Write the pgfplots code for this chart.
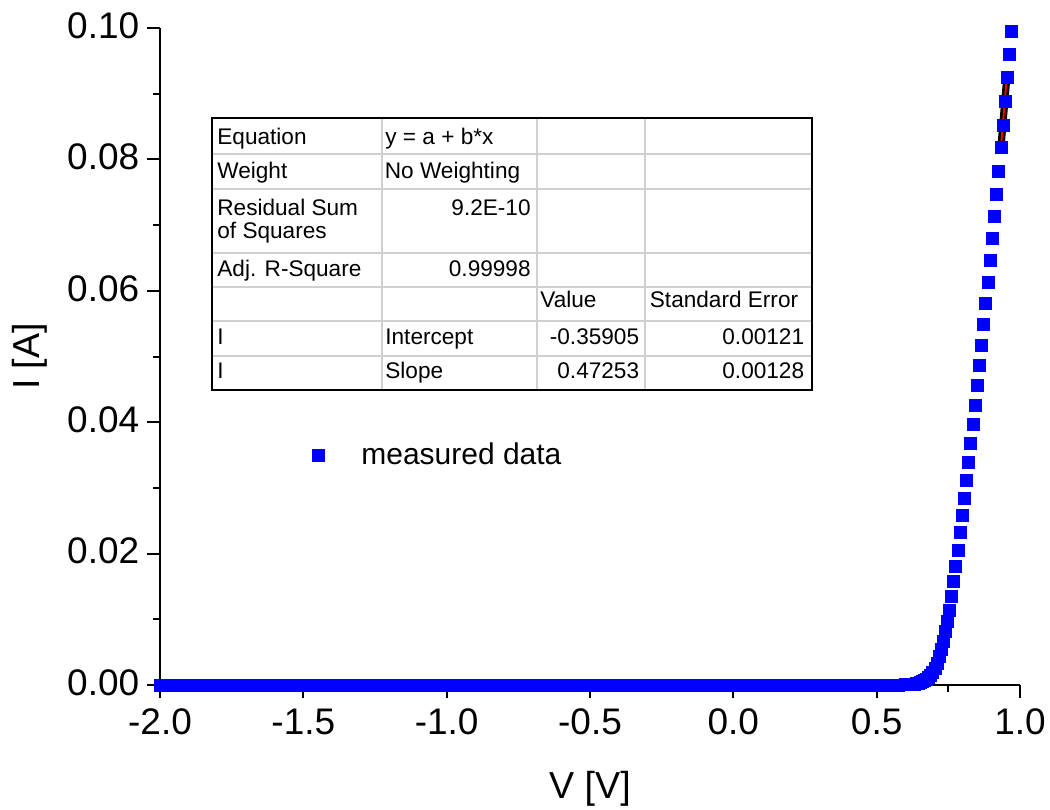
\documentclass[border=0pt]{standalone}
\usepackage{fontspec}
\setmainfont{Liberation Sans}
\usepackage{pgfplots}
\pgfplotsset{compat=1.18}
\definecolor{origblue}{RGB}{0,0,255}
\definecolor{cellgray}{RGB}{208,208,208}

\begin{document}
\begin{tikzpicture}
\begin{axis}[
  scale only axis, width=430pt, height=328.5pt,
  xmin=-2, xmax=1, ymin=0, ymax=0.1,
  axis x line=bottom, axis y line=left,
  axis line style={-, line width=1.2pt},
  axis on top,
  tick align=outside,
  major tick length=6.5pt, minor tick length=3.6pt,
  tick style={black, line width=1pt},
  xtick={-2,-1.5,-1,-0.5,0,0.5,1},
  ytick={0,0.02,0.04,0.06,0.08,0.1},
  minor x tick num=1, minor y tick num=1,
  scaled y ticks=false, scaled x ticks=false,
  /pgf/number format/assume math mode=true,
  xticklabel style={font=\fontsize{18.5}{21}\selectfont, anchor=base, inner sep=0pt, yshift=-18.3pt,
    /pgf/number format/fixed, /pgf/number format/fixed zerofill, /pgf/number format/precision=1},
  yticklabel style={font=\fontsize{18.5}{21}\selectfont, anchor=east, inner sep=0pt, xshift=-3.7pt, yshift=1.2pt,
    /pgf/number format/fixed, /pgf/number format/fixed zerofill, /pgf/number format/precision=2},
  xlabel={V [V]}, ylabel={I [A]},
  label style={font=\fontsize{18.8}{22}\selectfont},
  xlabel style={at={(axis description cs:0.5,-0.1735)}, anchor=base, inner sep=0pt},
  ylabel style={at={(axis description cs:-0.14035,0.5)}, anchor=base, inner sep=0pt},
  legend style={draw=none, fill=none, inner sep=0pt, outer sep=0pt,
    at={(axis description cs:0.1776,0.3496)}, anchor=west,
    font=\fontsize{15}{17}\selectfont,
    /tikz/every odd column/.append style={column sep=16.3pt}},
]
\coordinate (sw) at (rel axis cs:0,0);

% measured diode curve
\addplot[only marks, mark=square*, mark size=3pt, color=origblue,
  mark options={fill=origblue, draw=origblue, line width=0.3pt}] coordinates {
(-2.000,0) (-1.975,0) (-1.950,0) (-1.925,0) (-1.900,0) (-1.875,0) (-1.850,0) (-1.825,0)
(-1.800,0) (-1.775,0) (-1.750,0) (-1.725,0) (-1.700,0) (-1.675,0) (-1.650,0) (-1.625,0)
(-1.600,0) (-1.575,0) (-1.550,0) (-1.525,0) (-1.500,0) (-1.475,0) (-1.450,0) (-1.425,0)
(-1.400,0) (-1.375,0) (-1.350,0) (-1.325,0) (-1.300,0) (-1.275,0) (-1.250,0) (-1.225,0)
(-1.200,0) (-1.175,0) (-1.150,0) (-1.125,0) (-1.100,0) (-1.075,0) (-1.050,0) (-1.025,0)
(-1.000,0) (-0.975,0) (-0.950,0) (-0.925,0) (-0.900,0) (-0.875,0) (-0.850,0) (-0.825,0)
(-0.800,0) (-0.775,0) (-0.750,0) (-0.725,0) (-0.700,0) (-0.675,0) (-0.650,0) (-0.625,0)
(-0.600,0) (-0.575,0) (-0.550,0) (-0.525,0) (-0.500,0) (-0.475,0) (-0.450,0) (-0.425,0)
(-0.400,0) (-0.375,0) (-0.350,0) (-0.325,0) (-0.300,0) (-0.275,0) (-0.250,0) (-0.225,0)
(-0.200,0) (-0.175,0) (-0.150,0) (-0.125,0) (-0.100,0) (-0.075,0) (-0.050,0) (-0.025,0)
(0.000,0) (0.025,0) (0.050,0) (0.075,0) (0.100,0) (0.125,0) (0.150,0) (0.175,0)
(0.200,0) (0.225,0) (0.250,0) (0.275,0) (0.300,0) (0.325,0) (0.350,0) (0.375,0)
(0.400,0) (0.425,0) (0.450,0) (0.475,0) (0.500,0) (0.525,0) (0.550,0) (0.575,0)
(0.6005,0.00005) (0.6078,0.00007) (0.6151,0.00009) (0.6224,0.00012) (0.6297,0.00016)
(0.6370,0.00021) (0.6443,0.00028) (0.6516,0.00037) (0.6589,0.00049) (0.6662,0.00065)
(0.6735,0.00085) (0.6808,0.00112) (0.6881,0.00147) (0.6954,0.00193) (0.7034,0.00254)
(0.7104,0.00330) (0.7184,0.00431) (0.7254,0.00543) (0.7324,0.00670) (0.7394,0.00811)
(0.7464,0.00963) (0.7533,0.01142) (0.7603,0.01344) (0.7687,0.01572) (0.7757,0.01811)
(0.7837,0.02055) (0.7907,0.02318) (0.7987,0.02577) (0.8057,0.02846) (0.8140,0.03120)
(0.8210,0.03394) (0.8280,0.03679) (0.8360,0.03968) (0.8440,0.04262) (0.8510,0.04562)
(0.8580,0.04866) (0.8664,0.05175) (0.8733,0.05490) (0.8803,0.05810) (0.8884,0.06129)
(0.8963,0.06458) (0.9033,0.06799) (0.9103,0.07134) (0.9187,0.07473) (0.9257,0.07823)
(0.9337,0.08178) (0.9407,0.08524) (0.9487,0.08878) (0.9557,0.09244) (0.9626,0.09600)
(0.9710,0.09944)
};
\addlegendentry{measured data}

% linear fit over the top points
\addplot[black, line width=3.6pt, line cap=round, forget plot] coordinates {(0.9337,0.08193) (0.9535,0.09224)};
\addplot[red, line width=0.9pt, line cap=round, forget plot] coordinates {(0.9337,0.08193) (0.9535,0.09224)};
\end{axis}

\pgfresetboundingbox
% pixel frame of the 1050x809 reference, origin at its top left corner
\begin{scope}[shift={(sw)}, x=0.5pt, y=-0.5pt, shift={(-160,-685)}]
\path (0,0) rectangle (1050,809);

\fill[white] (211.7,118.3) rectangle (811.7,390);
\draw[cellgray, line width=0.9pt]
  (211.7,154.3) -- (811.7,154.3)
  (211.7,189.0) -- (811.7,189.0)
  (211.7,252.7) -- (811.7,252.7)
  (211.7,286.7) -- (811.7,286.7)
  (211.7,321.0) -- (811.7,321.0)
  (211.7,355.7) -- (811.7,355.7)
  (381.7,118.3) -- (381.7,390)
  (536.7,118.3) -- (536.7,390)
  (645.0,118.3) -- (645.0,390);
\draw[black, line width=1pt] (211.7,118.3) rectangle (811.7,390);

\tikzset{tt/.style={inner sep=0pt, font=\fontsize{11.3}{13}\selectfont}}
\node[tt, anchor=base west] at (217,144.5) {Equation};
\node[tt, anchor=base west] at (385,144.5) {y = a + b*x};
\node[tt, anchor=base west] at (217,178.5) {Weight};
\node[tt, anchor=base west] at (384.5,178.5) {No Weighting};
\node[tt, anchor=base west] at (217,215.5) {Residual Sum};
\node[tt, anchor=base west] at (217,239) {of Squares};
\node[tt, anchor=base east] at (531,215.5) {9.2E-10};
\node[tt, anchor=base west] at (217,277) {Adj. R-Square};
\node[tt, anchor=base east] at (531,277) {0.99998};
\node[tt, anchor=base west] at (540,307.5) {Value};
\node[tt, anchor=base west] at (649.5,307.5) {Standard Error};
\node[tt, anchor=base west] at (217,344.5) {I};
\node[tt, anchor=base west] at (385,344.5) {Intercept};
\node[tt, anchor=base east] at (639.5,344.5) {-0.35905};
\node[tt, anchor=base east] at (804.5,344.5) {0.00121};
\node[tt, anchor=base west] at (217,379) {I};
\node[tt, anchor=base west] at (385,379) {Slope};
\node[tt, anchor=base east] at (639.5,379) {0.47253};
\node[tt, anchor=base east] at (804.5,379) {0.00128};
\end{scope}
\end{tikzpicture}
\end{document}
